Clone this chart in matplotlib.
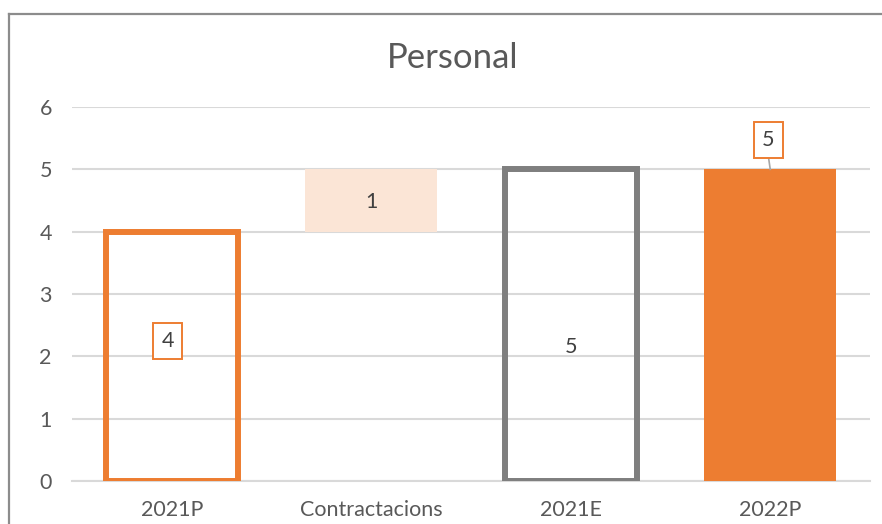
import matplotlib
matplotlib.use("Agg")
import matplotlib.pyplot as plt
from matplotlib.lines import Line2D

categories = ["2021P", "Contractacions", "2021E", "2022P"]
bottoms    = [0, 4, 0, 0]
heights    = [4, 1, 5, 5]
labels     = ["4", "1", "5", "5"]
label_y    = [2.25, 4.48, 2.15, 5.47]

ORANGE = "#ED7D31"
PEACH  = "#FBE5D6"
GRAY   = "#7F7F7F"
TEXT   = "#595959"
GRID   = "#D9D9D9"

plt.rcParams['font.family'] = ['Lato', 'DejaVu Sans']

fig = plt.figure(figsize=(8.82, 5.24), dpi=100)
ax = fig.add_axes([72/882, 1-481/524, (870-72)/882, (481-107)/524])

x = range(len(categories))
w = 0.66
# 2021P: orange outline
ax.bar(0, heights[0], bottom=bottoms[0], width=w, facecolor="none",
       edgecolor=ORANGE, linewidth=4.3, zorder=3)
# Contractacions: floating light bar
ax.bar(1, heights[1], bottom=bottoms[1], width=w, color=PEACH, zorder=3)
# 2021E: gray outline
ax.bar(2, heights[2], bottom=bottoms[2], width=w, facecolor="none",
       edgecolor=GRAY, linewidth=4.3, zorder=3)
# 2022P: solid orange
ax.bar(3, heights[3], bottom=bottoms[3], width=w, color=ORANGE, zorder=3)

boxed = {"boxstyle": "square,pad=0.38", "facecolor": "white",
         "edgecolor": ORANGE, "linewidth": 1.4}
label_x = [-0.02, 1, 2, 2.99]
for i, (lab, ly) in enumerate(zip(labels, label_y)):
    if i in (0, 3):
        ax.text(label_x[i], ly, lab, ha="center", va="center", fontsize=15.5,
                color="#404040", bbox=boxed, zorder=5)
    else:
        ax.text(label_x[i], ly, lab, ha="center", va="center", fontsize=15.5,
                color="#404040", zorder=5)
# leader line for the 2022P label
ax.plot([2.99, 3.0], [5.22, 5.0], color="#A6A6A6", lw=1.2, zorder=4)

ax.set_xlim(-0.5, 3.5)
ax.set_ylim(0, 6)
ax.set_yticks(range(7))
ax.set_xticks(list(x))
ax.set_xticklabels(categories)
ax.grid(axis="y", color=GRID, linewidth=1.5, zorder=0)
ax.set_axisbelow(True)
for s in ["top", "right", "left"]:
    ax.spines[s].set_visible(False)
ax.spines["bottom"].set_color(GRID)
ax.spines["bottom"].set_linewidth(1.5)
ax.tick_params(axis="both", length=0, colors=TEXT, labelsize=15.5)
ax.tick_params(axis="y", pad=14.5)
ax.tick_params(axis="x", pad=14)

fig.text(453/882, 1-58/524, "Personal", ha="center", va="center",
         fontsize=25, color=TEXT)

# chart frame (left and top edges visible)
fig.add_artist(Line2D([8.5/882, 8.5/882], [0, 1-14/524], color="#8C8C8C",
                      lw=1.6, transform=fig.transFigure))
fig.add_artist(Line2D([8.5/882, 1], [1-14/524, 1-14/524], color="#8C8C8C",
                      lw=1.6, transform=fig.transFigure))

fig.savefig("out.png", dpi=100)
